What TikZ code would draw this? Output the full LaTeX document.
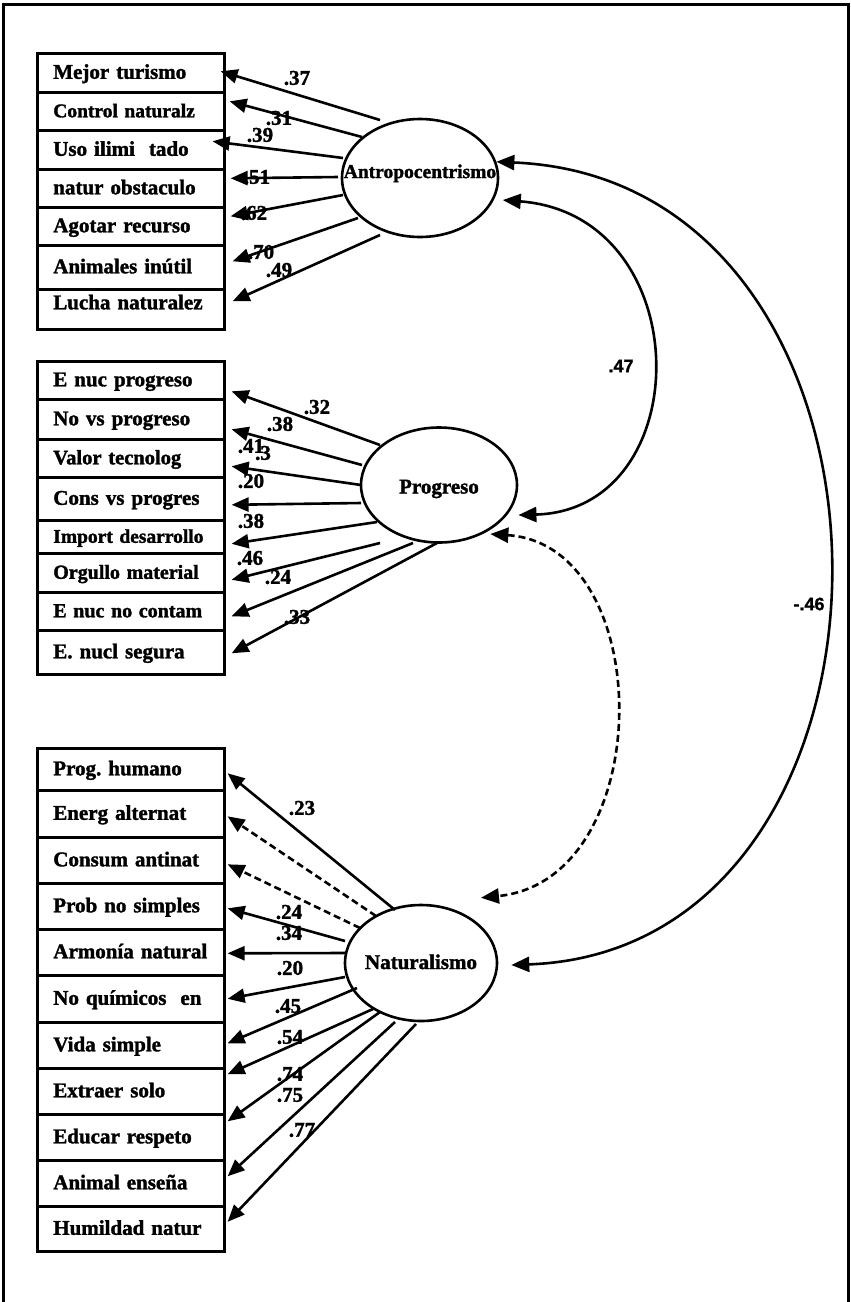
\documentclass[tikz,border=0pt]{standalone}
\usepackage{fontspec}
\setmainfont{Liberation Serif}[BoldFont={Liberation Serif Bold}, BoldFeatures={FakeBold=1.6}]
\newfontfamily\sansf{Liberation Sans}[BoldFont={Liberation Sans Bold}, BoldFeatures={FakeBold=1.2}]
\usetikzlibrary{arrows.meta,shapes.geometric}
\frenchspacing
\begin{document}
\begin{tikzpicture}[x=1pt,y=-1pt,
  itembox/.style={draw, line width=2.6pt, anchor=north west, minimum width=187pt,
    minimum height=#1, text width=155pt, inner xsep=16pt, inner ysep=0pt, align=left,
    text height=15pt, text depth=3pt, font=\bfseries\fontsize{21}{24}\selectfont},
  latent/.style={ellipse, draw, line width=2.6pt, inner sep=0pt, text height=0pt,
    text depth=0pt, font=\bfseries\fontsize{21}{24}\selectfont},
  coef/.style={inner sep=0pt, font=\bfseries\fontsize{21}{24}\selectfont},
  scoef/.style={inner sep=0pt, font=\sansf\bfseries\fontsize{18}{20}\selectfont},
  load/.style={line width=2.6pt, -{Triangle[length=17pt,width=14pt]}},
  dload/.style={load, dash pattern=on 7pt off 4pt},
  corr/.style={line width=2.6pt, {Triangle[length=18pt,width=15pt]}-{Triangle[length=18pt,width=15pt]}},
  dcorr/.style={corr, dash pattern=on 7pt off 4pt}
]
\useasboundingbox (0,0) rectangle (851,1302);
\draw[line width=3pt] (3.5,1302) -- (3.5,4.5) -- (848.5,4.5) -- (848.5,1302);

% top group
\node[itembox=39pt] (b1) at (36,52) {\mbox{Mejor turismo}};
\node[itembox=38pt, font=\bfseries\fontsize{19.5}{22}\selectfont] (b2) at (36,91) {\mbox{Control naturalz}};
\node[itembox=39pt] (b3) at (36,129) {\mbox{Uso ilimi~~tado}};
\node[itembox=38pt] (b4) at (36,168) {\mbox{natur obstaculo}};
\node[itembox=38pt] (b5) at (36,206) {\mbox{Agotar recurso}};
\node[itembox=44pt] (b6) at (36,244) {\mbox{Animales inútil}};
\node[itembox=40pt, text depth=15pt] (b7) at (36,288) {\mbox{Lucha naturalez}};

% middle group
\node[itembox=38pt] (m1) at (36,360) {\mbox{E nuc progreso}};
\node[itembox=40pt] (m2) at (36,398) {\mbox{No vs progreso}};
\node[itembox=38pt, font=\bfseries\fontsize{20.5}{23}\selectfont] (m3) at (36,438) {\mbox{Valor tecnolog}};
\node[itembox=43pt] (m4) at (36,476) {\mbox{Cons vs progres}};
\node[itembox=33pt, font=\bfseries\fontsize{19.5}{22}\selectfont] (m5) at (36,519) {\mbox{Import desarrollo}};
\node[itembox=39pt, font=\bfseries\fontsize{20}{23}\selectfont] (m6) at (36,552) {\mbox{Orgullo material}};
\node[itembox=38pt, font=\bfseries\fontsize{20}{23}\selectfont] (m7) at (36,591) {\mbox{E nuc no contam}};
\node[itembox=44pt] (m8) at (36,629) {\mbox{E. nucl segura}};

% bottom group
\node[itembox=42pt] (n1) at (36,747) {\mbox{Prog. humano}};
\node[itembox=47pt] (n2) at (36,789) {\mbox{Energ alternat}};
\node[itembox=46pt] (n3) at (36,836) {\mbox{Consum antinat}};
\node[itembox=46pt] (n4) at (36,882) {\mbox{Prob no simples}};
\node[itembox=46pt] (n5) at (36,928) {\mbox{Armonía natural}};
\node[itembox=47pt] (n6) at (36,974) {\mbox{No químicos~~en}};
\node[itembox=46pt] (n7) at (36,1021) {\mbox{Vida simple}};
\node[itembox=46pt] (n8) at (36,1067) {\mbox{Extraer solo}};
\node[itembox=46pt] (n9) at (36,1113) {\mbox{Educar respeto}};
\node[itembox=46pt] (n10) at (36,1159) {\mbox{Animal enseña}};
\node[itembox=45pt] (n11) at (36,1205) {\mbox{Humildad natur}};

% latent variables
\node[latent, minimum width=156pt, minimum height=118pt] (anth) at (420,178)
  {\makebox[0pt]{\fontsize{19.5}{22}\selectfont Antropocentrismo}};
\node[latent, minimum width=156pt, minimum height=115pt] (prog) at (439,485)
  {\makebox[0pt]{\raisebox{-8.5pt}{Progreso}}};
\node[latent, minimum width=152pt, minimum height=116pt] (nat) at (421,963)
  {\makebox[0pt]{\raisebox{-6pt}{Naturalismo}}};

% coefficient labels
\node[coef] (t1) at (297,78) {.37};
\node[coef] (t2) at (279,118) {.31};
\node[coef] (t3) at (260,135) {.39};
\node[coef] (t4) at (257,177) {.51};
\node[coef] (t5) at (254,213) {.62};
\node[coef] (t6) at (261,252) {.70};
\node[coef] (t7) at (279,270) {.49};

\node[coef] (p1) at (317,407) {.32};
\node[coef] (p2) at (280,424) {.38};
\node[coef] (p3a) at (251,446) {.41};
\node[coef] (p3b) at (263,453) {.3};
\node[coef] (p4) at (251,481) {.20};
\node[coef] (p5) at (251,521) {.38};
\node[coef] (p6) at (250,558) {.46};
\node[coef] (p7) at (278,577) {.24};
\node[coef] (p8) at (297,617) {.33};

\node[coef] (q1) at (302,808) {.23};
\node[coef] (q4) at (289,912) {.24};
\node[coef] (q5) at (289,933) {.34};
\node[coef] (q6) at (290,968) {.20};
\node[coef] (q7) at (288,1006) {.45};
\node[coef] (q8) at (290,1037) {.54};
\node[coef] (q9) at (290,1074) {.74};
\node[coef] (q10) at (290,1095) {.75};
\node[coef] (q11) at (302,1130) {.77};

\node[scoef] (r1) at (621,366) {.47};
\node[scoef] (r2) at (809,604) {-.46};

% loadings: Antropocentrismo
\draw[load] ([shift={(-40,-58)}]anth.center) -- ([shift={(-5,-1.5)}]b1.east);
\draw[load] ([shift={(-58,-41)}]anth.center) -- ([shift={(4,-10)}]b2.east);
\draw[load] ([shift={(-77,-20)}]anth.center) -- ([shift={(-13,-8.5)}]b3.east);
\draw[load] ([shift={(-82,-1)}]anth.center) -- ([shift={(5,-10)}]b4.east);
\draw[load] ([shift={(-77,17)}]anth.center) -- ([shift={(5,-10)}]b5.east);
\draw[load] ([shift={(-62,40)}]anth.center) -- ([shift={(7,-6)}]b6.east);
\draw[load] ([shift={(-40,57)}]anth.center) -- ([shift={(7,-8)}]b7.east);

% loadings: Progreso
\draw[load] ([shift={(-59,-40)}]prog.center) -- ([shift={(6,11)}]m1.east);
\draw[load] ([shift={(-77,-20)}]prog.center) -- ([shift={(6,10)}]m2.east);
\draw[load] ([shift={(-78,0)}]prog.center) -- ([shift={(6,8)}]m3.east);
\draw[load] ([shift={(-78,18)}]prog.center) -- ([shift={(6,6)}]m4.east);
\draw[load] ([shift={(-62,37)}]prog.center) -- ([shift={(6,7)}]m5.east);
\draw[load] ([shift={(-59,58)}]prog.center) -- ([shift={(6,7)}]m6.east);
\draw[load] ([shift={(-26,58)}]prog.center) -- ([shift={(6,5)}]m7.east);
\draw[load] ([shift={(-2,58)}]prog.center) -- ([shift={(6,1)}]m8.east);

% loadings: Naturalismo
\draw[load] ([shift={(-26,-53)}]nat.center) -- ([shift={(2,4)}]n1.east);
\draw[dload] ([shift={(-45,-47)}]nat.center) -- ([shift={(2,2.5)}]n2.east);
\draw[dload] ([shift={(-61,-35)}]nat.center) -- ([shift={(2,4)}]n3.east);
\draw[load] ([shift={(-76,-22)}]nat.center) -- ([shift={(2,2)}]n4.east);
\draw[load] ([shift={(-76,-10)}]nat.center) -- ([shift={(2,1)}]n5.east);
\draw[load] ([shift={(-76,14)}]nat.center) -- ([shift={(2,0)}]n6.east);
\draw[load] ([shift={(-64,25)}]nat.center) -- ([shift={(2,-2)}]n7.east);
\draw[load] ([shift={(-48,46)}]nat.center) -- ([shift={(2,-17)}]n8.east);
\draw[load] ([shift={(-41,49)}]nat.center) -- ([shift={(2,-16)}]n9.east);
\draw[load] ([shift={(-26,59)}]nat.center) -- ([shift={(2,-7)}]n10.east);
\draw[load] ([shift={(-5,61)}]nat.center) -- ([shift={(2,-7)}]n11.east);

% correlations
\draw[corr] (anth.12) .. controls (936,180) and (936,950) .. ([shift={(13,2)}]nat.0);
\draw[corr] ([shift={(8,2)}]anth.-15) .. controls (699,215) and (699,510) .. ([shift={(9,3)}]prog.-21);
\draw[dcorr] ([shift={(2,3)}]prog.-43) .. controls (658,545) and (658,880) .. ([shift={(15,-17)}]nat.47);
\end{tikzpicture}
\end{document}
